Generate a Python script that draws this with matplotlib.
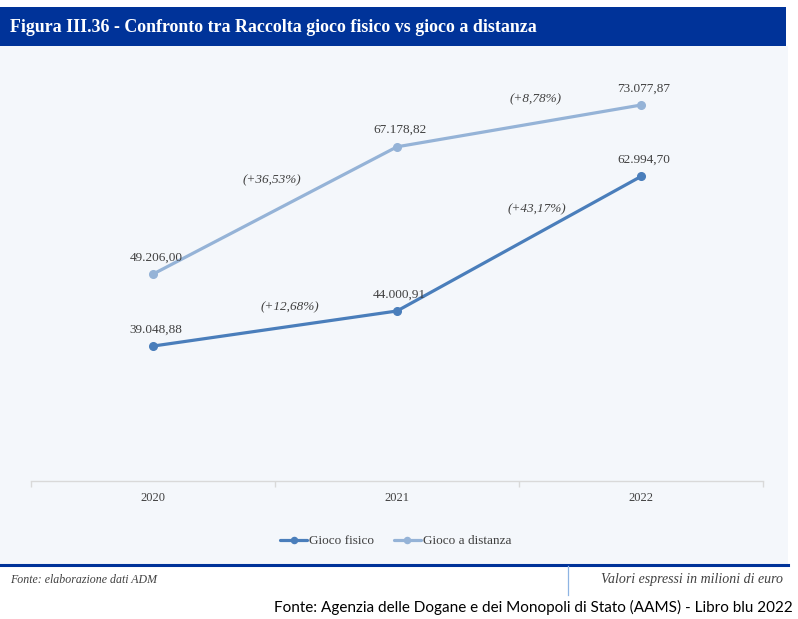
import matplotlib
matplotlib.use("Agg")
import matplotlib.pyplot as plt
from matplotlib.patches import Rectangle
from matplotlib.lines import Line2D

# ---- data ----
years = ["2020", "2021", "2022"]
gioco_fisico = [39048.88, 44000.91, 62994.70]
gioco_distanza = [49206.00, 67178.82, 73077.87]
pct_fisico = ["(+12,68%)", "(+43,17%)"]
pct_distanza = ["(+36,53%)", "(+8,78%)"]
series_names = ["Gioco fisico", "Gioco a distanza"]
title = "Figura III.36 - Confronto tra Raccolta gioco fisico vs gioco a distanza"
footer_left = "Fonte: elaborazione dati ADM"
footer_right = "Valori espressi in milioni di euro"
source = "Fonte: Agenzia delle Dogane e dei Monopoli di Stato (AAMS) - Libro blu 2022"

W, H = 798, 619
C_DARK = "#4A7EBB"
C_LIGHT = "#95B3D7"
C_TITLE = "#003399"
C_PANEL = "#F4F7FB"
C_TEXT = "#404040"
SERIF = "Liberation Serif"


def fx(x):
    return x / W


def fy(y):
    return 1 - y / H


def it_fmt(v):
    s = f"{v:,.2f}"
    return s.replace(",", "X").replace(".", ",").replace("X", ".")


fig = plt.figure(figsize=(W / 100, H / 100), dpi=100)
fig.patch.set_facecolor("white")

# panel background
fig.patches.append(Rectangle((fx(0), fy(564)), fx(788), 518 / H, transform=fig.transFigure,
                             facecolor=C_PANEL, edgecolor="none", zorder=-3))
# title bar
fig.patches.append(Rectangle((fx(0), fy(46)), fx(786), 39 / H, transform=fig.transFigure,
                             facecolor=C_TITLE, edgecolor="none", zorder=-2))
fig.text(fx(10), fy(27), title, color="white", fontsize=12.85, fontweight="bold",
         family=SERIF, va="center", ha="left", zorder=2)

# footer line & divider
fig.add_artist(Line2D([fx(0), fx(788)], [fy(565), fy(565)], transform=fig.transFigure,
                      color=C_TITLE, lw=2.2))
fig.add_artist(Line2D([fx(568), fx(568)], [fy(566), fy(595)], transform=fig.transFigure,
                      color="#8EB4E3", lw=0.9))
fig.text(fx(10), fy(580), footer_left, fontsize=8.6, style="italic", family=SERIF,
         color=C_TEXT, va="center", ha="left")
fig.text(fx(783), fy(580), footer_right, fontsize=10, style="italic", family=SERIF,
         color=C_TEXT, va="center", ha="right")
fig.text(fx(793), fy(607), source, fontsize=11, family="Lato", color="black",
         va="center", ha="right")

# ---- chart ----
ax = fig.add_axes([fx(31), fy(481), 732 / W, 425 / H])
ax.set_zorder(2)
ax.set_facecolor("none")
x = list(range(len(years)))
ax.plot(x, gioco_fisico, color=C_DARK, lw=2.3, marker="o", ms=5.5, label=series_names[0],
        solid_capstyle="round", zorder=3)
ax.plot(x, gioco_distanza, color=C_LIGHT, lw=2.3, marker="o", ms=5.5, label=series_names[1],
        solid_capstyle="round", zorder=3)
ax.set_xlim(-0.5, len(years) - 0.5)
ax.set_ylim(20000, 80000)

for s in ["top", "left", "right"]:
    ax.spines[s].set_visible(False)
ax.spines["bottom"].set_color("#D9D9D9")
ax.spines["bottom"].set_linewidth(1.0)
ax.set_yticks([])
ax.set_xticks(x)
ax.set_xticklabels(years, family=SERIF, fontsize=9, color=C_TEXT)
ax.tick_params(axis="x", which="major", length=0, pad=8)
ax.set_xticks([i - 0.5 for i in range(len(years) + 1)], minor=True)
ax.tick_params(axis="x", which="minor", length=4, color="#D9D9D9", width=1)

# value labels
for series in (gioco_fisico, gioco_distanza):
    for xi, v in zip(x, series):
        ax.annotate(it_fmt(v), (xi, v), xytext=(2, 12), textcoords="offset points",
                    ha="center", va="center", family=SERIF, fontsize=9.5, color=C_TEXT)

# percentage labels
pct_offsets_f = [(11, 15), (13, 25)]
pct_offsets_d = [(-2, 22), (12, 19.5)]
for series, labels, offs in ((gioco_fisico, pct_fisico, pct_offsets_f),
                             (gioco_distanza, pct_distanza, pct_offsets_d)):
    for i, (lab, off) in enumerate(zip(labels, offs)):
        mx = (x[i] + x[i + 1]) / 2
        my = (series[i] + series[i + 1]) / 2
        ax.annotate(lab, (mx, my), xytext=off, textcoords="offset points",
                    ha="center", va="center", family=SERIF, style="italic",
                    fontsize=9.5, color=C_TEXT)

leg = fig.legend(loc="center", bbox_to_anchor=(fx(396), fy(541)), ncol=2, frameon=False,
                 prop={"family": SERIF, "size": 9.5}, handlelength=2.0, columnspacing=1.5,
                 handletextpad=0.2, markerscale=0.8)
for t in leg.get_texts():
    t.set_color(C_TEXT)

fig.savefig("out.png", dpi=100, facecolor="white")
